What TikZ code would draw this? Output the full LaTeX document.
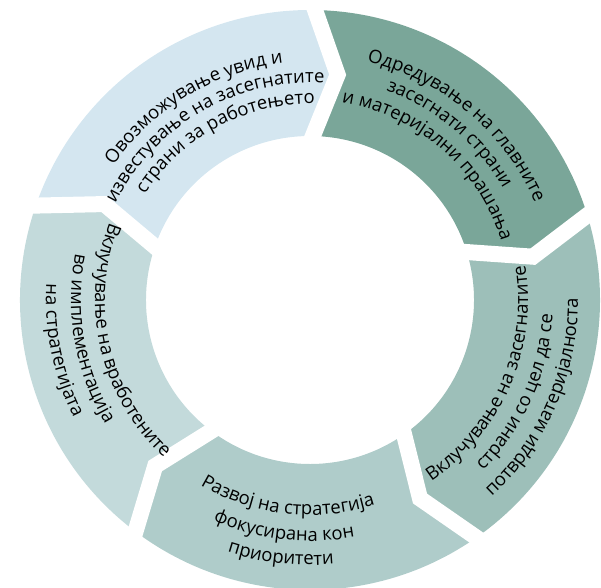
\documentclass[tikz,border=0pt]{standalone}
\usepackage{fontspec}
\setmainfont{Open Sans}
\usetikzlibrary{calc, decorations.text}

\definecolor{segblue}{HTML}{D4E6F0}
\definecolor{seggreen}{HTML}{7AA699}
\definecolor{segmid}{HTML}{9DBFB9}
\definecolor{seglow}{HTML}{AFCCCA}
\definecolor{segpale}{HTML}{C3DADB}

% one ring piece, clockwise from #2 to #3
\newcommand{\ringseg}[3]{%
  \fill[#1] (#2:290) arc[start angle=#2, end angle=#3, radius=290]
    -- ({#3-6}:227) -- (#3:164) arc[start angle=#3, end angle=#2, radius=164]
    -- ({#2-6}:227) -- cycle;}
% text on an arc: centre angle, radius, text
\newcommand{\cwtext}[3]{\path[lbl={#3}] ({#1+42}:#2) arc[start angle={#1+42}, end angle={#1-42}, radius=#2];}
\newcommand{\ccwtext}[3]{\path[lbl={#3}] ({#1-42}:#2) arc[start angle={#1-42}, end angle={#1+42}, radius=#2];}

\begin{document}
\fontsize{18.5}{21}\selectfont
\begin{tikzpicture}[
    x=1pt, y=1pt,
    gap/.style={draw=white, line width=16pt, line join=miter},
    lbl/.style={decorate, decoration={text along path, text align=center, text={#1}}},
]
\useasboundingbox (-310,-287) rectangle (291,300);

\ringseg{segblue}{161}{89}
\ringseg{seggreen}{89}{17}
\ringseg{segmid}{17}{-55}
\ringseg{seglow}{-55}{-127}
\ringseg{segpale}{233}{161}

% white cuts between the pieces
\foreach \a in {89,17,-55,-127,161}
  \draw[gap] ($({\a-6}:227)!1.3!(\a:290)$) -- ({\a-6}:227) -- ($({\a-6}:227)!1.3!(\a:164)$);

\cwtext{121}{238}{Овозможување увид и}
\cwtext{120}{217}{известување на засегнатите}
\cwtext{118}{196}{страни за работењето}

\cwtext{50}{245}{Одредување на главните}
\cwtext{50}{223}{засегнати страни}
\cwtext{49}{200}{и материјални прашања}

\ccwtext{-23.5}{218}{Вклучување на засегнатите}
\ccwtext{-24}{243}{страни со цел да се}
\ccwtext{-23.5}{268}{потврди материјалноста}

\ccwtext{-96.5}{215}{Развој на стратегија}
\ccwtext{-96.5}{241}{фокусирана кон}
\ccwtext{-96.5}{265}{приоритети}

\ccwtext{193}{215}{Вклучување на вработените}
\ccwtext{190}{239}{во имплементација}
\ccwtext{191.5}{264}{на стратегијата}

\end{tikzpicture}
\end{document}
